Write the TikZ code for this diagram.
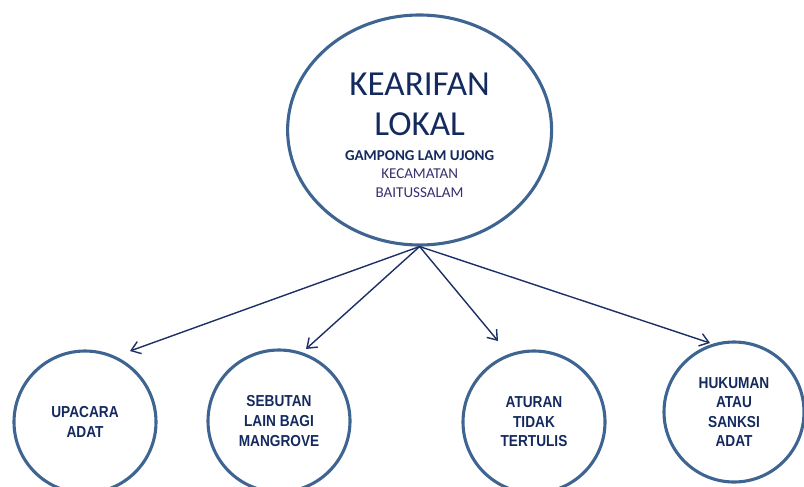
\documentclass[tikz,border=0pt]{standalone}
\usepackage{fontspec}
\setmainfont{Carlito}
\newfontfamily\circfont[FakeStretch=0.86]{Liberation Sans}
\usetikzlibrary{positioning}
\usetikzlibrary{arrows.meta}
\usetikzlibrary{shapes.geometric}

\definecolor{ringblue}{HTML}{3E6592}
\definecolor{navy}{HTML}{142A5E}
\definecolor{arrownavy}{HTML}{1E2F66}
\definecolor{plum}{HTML}{35306E}

\begin{document}
\begin{tikzpicture}[
  ring/.style={circle, draw=ringblue, line width=2.2pt, minimum size=3.55cm, inner sep=0pt,
    align=center, text=navy, font=\circfont\bfseries\fontsize{11.3}{13.9}\selectfont},
  arr/.style={-{Straight Barb[length=2.2mm,width=3.2mm]}, draw=arrownavy, line width=1pt}
]
  % keep the page at the size of the original
  \useasboundingbox (0,0) rectangle (20.1,-12.15);

  % main ellipse with its text
  \node[ellipse, draw=ringblue, line width=2.2pt, minimum width=6.6cm, minimum height=5.75cm, inner sep=0pt] (kl) at (10.49,-3.25) {};
  \node[text=navy, align=center, font=\fontsize{25}{28.4}\selectfont] (title) at (10.49,-2.61) {KEARIFAN\\LOKAL};
  \node[text=plum, align=center, font=\fontsize{10.7}{13.2}\selectfont] (place) at (10.49,-4.35) {{\color{navy}\bfseries GAMPONG LAM UJONG}\\KECAMATAN\\BAITUSSALAM};

  % the four circles below
  \node[ring] (c1) at (2.125,-10.55) {UPACARA\\ADAT};
  \node[ring] (c2) at (6.975,-10.525) {SEBUTAN\\LAIN BAGI\\MANGROVE};
  \node[ring] (c3) at (13.35,-10.55) {ATURAN\\TIDAK\\TERTULIS};
  \node[ring, minimum size=3.5cm] (c4) at (18.35,-10.3) {HUKUMAN\\ATAU\\SANKSI\\ADAT};

  % where the arrows stop, a little above each circle
  \coordinate (e1) at (3.25,-8.775);
  \coordinate (e2) at (7.65,-8.725);
  \coordinate (e3) at (12.45,-8.525);
  \coordinate (e4) at (17.75,-8.575);

  \foreach \i in {1,...,4} {
    \draw[arr] (kl.south) -- (e\i);
  }
\end{tikzpicture}
\end{document}
